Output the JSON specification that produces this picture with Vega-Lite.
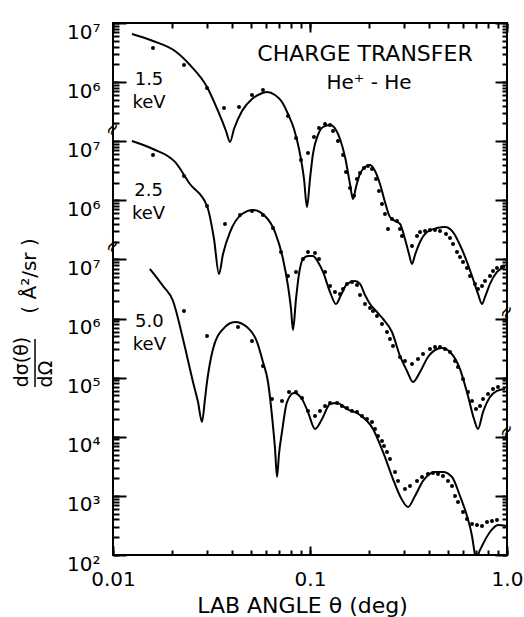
{
  "$schema": "https://vega.github.io/schema/vega-lite/v6.json",
  "width": 394,
  "height": 532,
  "autosize": {"type": "none"},
  "padding": {"left": 113, "top": 23, "right": 17, "bottom": 62},
  "background": "white",
  "config": {
    "view": {"stroke": "black", "strokeWidth": 2},
    "font": "DejaVu Sans",
    "axis": {
      "grid": false,
      "domain": false,
      "ticks": true,
      "tickColor": "#000000",
      "tickWidth": 2,
      "tickOpacity": 1,
      "tickRound": true,
      "zindex": 2,
      "labelColor": "black",
      "labelFont": "DejaVu Sans",
      "labelFontSize": 20,
      "titleColor": "black",
      "titleFont": "DejaVu Sans",
      "titleFontWeight": "normal",
      "labelOverlap": false,
      "labelFlush": false,
      "labelBound": false
    }
  },
  "datasets": {
    "theory": [
      {"energy": "1.5 keV", "theta": 0.01248, "sigma": 6.52e10},
      {"energy": "1.5 keV", "theta": 0.01596, "sigma": 4.97e10},
      {"energy": "1.5 keV", "theta": 0.02064, "sigma": 3.36e10},
      {"energy": "1.5 keV", "theta": 0.02459, "sigma": 1.95e10},
      {"energy": "1.5 keV", "theta": 0.03001, "sigma": 8.28e9},
      {"energy": "1.5 keV", "theta": 0.03412, "sigma": 3.25e9},
      {"energy": "1.5 keV", "theta": 0.03747, "sigma": 1.49e9},
      {"energy": "1.5 keV", "theta": 0.03926, "sigma": 9.71e8},
      {"energy": "1.5 keV", "theta": 0.04113, "sigma": 1.61e9},
      {"energy": "1.5 keV", "theta": 0.04518, "sigma": 3.25e9},
      {"energy": "1.5 keV", "theta": 0.05077, "sigma": 5.19e9},
      {"energy": "1.5 keV", "theta": 0.05575, "sigma": 6.30e9},
      {"energy": "1.5 keV", "theta": 0.06050, "sigma": 6.81e9},
      {"energy": "1.5 keV", "theta": 0.06645, "sigma": 6.05e9},
      {"energy": "1.5 keV", "theta": 0.07209, "sigma": 4.61e9},
      {"energy": "1.5 keV", "theta": 0.07733, "sigma": 2.89e9},
      {"energy": "1.5 keV", "theta": 0.08295, "sigma": 1.61e9},
      {"energy": "1.5 keV", "theta": 0.08796, "sigma": 7.39e8},
      {"energy": "1.5 keV", "theta": 0.09322, "sigma": 2.30e8},
      {"energy": "1.5 keV", "theta": 0.09656, "sigma": 7.71e7},
      {"energy": "1.5 keV", "theta": 0.1, "sigma": 2.30e8},
      {"energy": "1.5 keV", "theta": 0.1035, "sigma": 6.08e8},
      {"energy": "1.5 keV", "theta": 0.1098, "sigma": 1.28e9},
      {"energy": "1.5 keV", "theta": 0.1164, "sigma": 1.74e9},
      {"energy": "1.5 keV", "theta": 0.1264, "sigma": 1.88e9},
      {"energy": "1.5 keV", "theta": 0.1355, "sigma": 1.55e9},
      {"energy": "1.5 keV", "theta": 0.1420, "sigma": 1.09e9},
      {"energy": "1.5 keV", "theta": 0.1506, "sigma": 5.41e8},
      {"energy": "1.5 keV", "theta": 0.1596, "sigma": 1.89e8},
      {"energy": "1.5 keV", "theta": 0.1653, "sigma": 1.05e8},
      {"energy": "1.5 keV", "theta": 0.1712, "sigma": 1.68e8},
      {"energy": "1.5 keV", "theta": 0.1794, "sigma": 2.79e8},
      {"energy": "1.5 keV", "theta": 0.1902, "sigma": 3.66e8},
      {"energy": "1.5 keV", "theta": 0.2017, "sigma": 3.96e8},
      {"energy": "1.5 keV", "theta": 0.2138, "sigma": 3.14e8},
      {"energy": "1.5 keV", "theta": 0.2266, "sigma": 1.89e8},
      {"energy": "1.5 keV", "theta": 0.2402, "sigma": 9.38e7},
      {"energy": "1.5 keV", "theta": 0.2547, "sigma": 5.22e7},
      {"energy": "1.5 keV", "theta": 0.2701, "sigma": 4.48e7},
      {"energy": "1.5 keV", "theta": 0.2863, "sigma": 3.98e7},
      {"energy": "1.5 keV", "theta": 0.3035, "sigma": 2.22e7},
      {"energy": "1.5 keV", "theta": 0.3181, "sigma": 1.24e7},
      {"energy": "1.5 keV", "theta": 0.3294, "sigma": 8.38e6},
      {"energy": "1.5 keV", "theta": 0.3412, "sigma": 1.19e7},
      {"energy": "1.5 keV", "theta": 0.3618, "sigma": 1.97e7},
      {"energy": "1.5 keV", "theta": 0.3926, "sigma": 2.91e7},
      {"energy": "1.5 keV", "theta": 0.4413, "sigma": 3.40e7},
      {"energy": "1.5 keV", "theta": 0.4845, "sigma": 3.54e7},
      {"energy": "1.5 keV", "theta": 0.5320, "sigma": 2.91e7},
      {"energy": "1.5 keV", "theta": 0.5980, "sigma": 1.34e7},
      {"energy": "1.5 keV", "theta": 0.6643, "sigma": 5.25e6},
      {"energy": "1.5 keV", "theta": 0.7126, "sigma": 2.61e6},
      {"energy": "1.5 keV", "theta": 0.7467, "sigma": 1.76e6},
      {"energy": "1.5 keV", "theta": 0.7733, "sigma": 2.32e6},
      {"energy": "1.5 keV", "theta": 0.8198, "sigma": 3.85e6},
      {"energy": "1.5 keV", "theta": 0.8897, "sigma": 6.14e6},
      {"energy": "1.5 keV", "theta": 0.9768, "sigma": 7.45e6},
      {"energy": "2.5 keV", "theta": 0.01248, "sigma": 1.01e9},
      {"energy": "2.5 keV", "theta": 0.01596, "sigma": 7.39e8},
      {"energy": "2.5 keV", "theta": 0.02064, "sigma": 4.46e8},
      {"energy": "2.5 keV", "theta": 0.02459, "sigma": 1.89e8},
      {"energy": "2.5 keV", "theta": 0.03001, "sigma": 8.02e7},
      {"energy": "2.5 keV", "theta": 0.03256, "sigma": 2.22e7},
      {"energy": "2.5 keV", "theta": 0.03452, "sigma": 5.68e6},
      {"energy": "2.5 keV", "theta": 0.03618, "sigma": 1.24e7},
      {"energy": "2.5 keV", "theta": 0.03926, "sigma": 2.91e7},
      {"energy": "2.5 keV", "theta": 0.04518, "sigma": 5.87e7},
      {"energy": "2.5 keV", "theta": 0.05137, "sigma": 6.87e7},
      {"energy": "2.5 keV", "theta": 0.05908, "sigma": 5.43e7},
      {"energy": "2.5 keV", "theta": 0.06645, "sigma": 2.91e7},
      {"energy": "2.5 keV", "theta": 0.07293, "sigma": 1.02e7},
      {"energy": "2.5 keV", "theta": 0.07733, "sigma": 3.56e6},
      {"energy": "2.5 keV", "theta": 0.08010, "sigma": 1.45e6},
      {"energy": "2.5 keV", "theta": 0.08198, "sigma": 6.41e5},
      {"energy": "2.5 keV", "theta": 0.08490, "sigma": 2.14e6},
      {"energy": "2.5 keV", "theta": 0.08796, "sigma": 5.68e6},
      {"energy": "2.5 keV", "theta": 0.09215, "sigma": 1.02e7},
      {"energy": "2.5 keV", "theta": 0.09768, "sigma": 1.14e7},
      {"energy": "2.5 keV", "theta": 0.1035, "sigma": 1.14e7},
      {"energy": "2.5 keV", "theta": 0.1098, "sigma": 9.06e6},
      {"energy": "2.5 keV", "theta": 0.1164, "sigma": 6.14e6},
      {"energy": "2.5 keV", "theta": 0.1264, "sigma": 2.81e6},
      {"energy": "2.5 keV", "theta": 0.1355, "sigma": 1.76e6},
      {"energy": "2.5 keV", "theta": 0.1437, "sigma": 2.50e6},
      {"energy": "2.5 keV", "theta": 0.1541, "sigma": 3.85e6},
      {"energy": "2.5 keV", "theta": 0.1692, "sigma": 4.32e6},
      {"energy": "2.5 keV", "theta": 0.1794, "sigma": 3.85e6},
      {"energy": "2.5 keV", "theta": 0.1902, "sigma": 2.50e6},
      {"energy": "2.5 keV", "theta": 0.2017, "sigma": 1.76e6},
      {"energy": "2.5 keV", "theta": 0.2188, "sigma": 1.29e6},
      {"energy": "2.5 keV", "theta": 0.2347, "sigma": 9.84e5},
      {"energy": "2.5 keV", "theta": 0.2607, "sigma": 5.93e5},
      {"energy": "2.5 keV", "theta": 0.2863, "sigma": 2.33e5},
      {"energy": "2.5 keV", "theta": 0.3107, "sigma": 1.30e5},
      {"energy": "2.5 keV", "theta": 0.3333, "sigma": 8.45e4},
      {"energy": "2.5 keV", "theta": 0.3618, "sigma": 1.25e5},
      {"energy": "2.5 keV", "theta": 0.3972, "sigma": 2.24e5},
      {"energy": "2.5 keV", "theta": 0.4413, "sigma": 3.05e5},
      {"energy": "2.5 keV", "theta": 0.4679, "sigma": 3.18e5},
      {"energy": "2.5 keV", "theta": 0.5137, "sigma": 2.72e5},
      {"energy": "2.5 keV", "theta": 0.5773, "sigma": 1.40e5},
      {"energy": "2.5 keV", "theta": 0.6339, "sigma": 4.90e4},
      {"energy": "2.5 keV", "theta": 0.6800, "sigma": 2.00e4},
      {"energy": "2.5 keV", "theta": 0.7126, "sigma": 1.36e4},
      {"energy": "2.5 keV", "theta": 0.7555, "sigma": 2.62e4},
      {"energy": "2.5 keV", "theta": 0.8198, "sigma": 4.71e4},
      {"energy": "2.5 keV", "theta": 0.8897, "sigma": 5.96e4},
      {"energy": "2.5 keV", "theta": 0.9768, "sigma": 6.43e4},
      {"energy": "5.0 keV", "theta": 0.01541, "sigma": 6.90e6},
      {"energy": "5.0 keV", "theta": 0.01794, "sigma": 3.56e6},
      {"energy": "5.0 keV", "theta": 0.02017, "sigma": 1.98e6},
      {"energy": "5.0 keV", "theta": 0.02266, "sigma": 4.51e5},
      {"energy": "5.0 keV", "theta": 0.02547, "sigma": 8.45e4},
      {"energy": "5.0 keV", "theta": 0.02701, "sigma": 3.87e4},
      {"energy": "5.0 keV", "theta": 0.02829, "sigma": 1.78e4},
      {"energy": "5.0 keV", "theta": 0.02931, "sigma": 4.36e4},
      {"energy": "5.0 keV", "theta": 0.03001, "sigma": 8.45e4},
      {"energy": "5.0 keV", "theta": 0.03218, "sigma": 3.05e5},
      {"energy": "5.0 keV", "theta": 0.03618, "sigma": 6.65e5},
      {"energy": "5.0 keV", "theta": 0.04162, "sigma": 8.75e5},
      {"energy": "5.0 keV", "theta": 0.04788, "sigma": 7.19e5},
      {"energy": "5.0 keV", "theta": 0.05383, "sigma": 4.02e5},
      {"energy": "5.0 keV", "theta": 0.05771, "sigma": 1.84e5},
      {"energy": "5.0 keV", "theta": 0.06121, "sigma": 8.45e4},
      {"energy": "5.0 keV", "theta": 0.06413, "sigma": 2.25e4},
      {"energy": "5.0 keV", "theta": 0.06645, "sigma": 6.21e3},
      {"energy": "5.0 keV", "theta": 0.06803, "sigma": 2.09e3},
      {"energy": "5.0 keV", "theta": 0.06960, "sigma": 5.11e3},
      {"energy": "5.0 keV", "theta": 0.07209, "sigma": 1.21e4},
      {"energy": "5.0 keV", "theta": 0.07642, "sigma": 3.87e4},
      {"energy": "5.0 keV", "theta": 0.08295, "sigma": 5.51e4},
      {"energy": "5.0 keV", "theta": 0.09107, "sigma": 4.36e4},
      {"energy": "5.0 keV", "theta": 0.09768, "sigma": 2.62e4},
      {"energy": "5.0 keV", "theta": 0.1060, "sigma": 1.36e4},
      {"energy": "5.0 keV", "theta": 0.1151, "sigma": 2.00e4},
      {"energy": "5.0 keV", "theta": 0.1264, "sigma": 3.59e4},
      {"energy": "5.0 keV", "theta": 0.1371, "sigma": 3.73e4},
      {"energy": "5.0 keV", "theta": 0.1541, "sigma": 2.95e4},
      {"energy": "5.0 keV", "theta": 0.1794, "sigma": 2.34e4},
      {"energy": "5.0 keV", "theta": 0.2088, "sigma": 1.36e4},
      {"energy": "5.0 keV", "theta": 0.2347, "sigma": 5.53e3},
      {"energy": "5.0 keV", "theta": 0.2638, "sigma": 1.93e3},
      {"energy": "5.0 keV", "theta": 0.2863, "sigma": 996},
      {"energy": "5.0 keV", "theta": 0.3144, "sigma": 649},
      {"energy": "5.0 keV", "theta": 0.3412, "sigma": 996},
      {"energy": "5.0 keV", "theta": 0.3747, "sigma": 1.79e3},
      {"energy": "5.0 keV", "theta": 0.4311, "sigma": 2.54e3},
      {"energy": "5.0 keV", "theta": 0.4733, "sigma": 2.54e3},
      {"energy": "5.0 keV", "theta": 0.5258, "sigma": 2.09e3},
      {"energy": "5.0 keV", "theta": 0.5773, "sigma": 996},
      {"energy": "5.0 keV", "theta": 0.6266, "sigma": 457},
      {"energy": "5.0 keV", "theta": 0.6643, "sigma": 210},
      {"energy": "5.0 keV", "theta": 0.6880, "sigma": 100},
      {"energy": "5.0 keV", "theta": 0.7000, "sigma": 80},
      {"energy": "5.0 keV", "theta": 0.7126, "sigma": 100},
      {"energy": "5.0 keV", "theta": 0.7467, "sigma": 142},
      {"energy": "5.0 keV", "theta": 0.8198, "sigma": 245},
      {"energy": "5.0 keV", "theta": 0.9001, "sigma": 322},
      {"energy": "5.0 keV", "theta": 1.0, "sigma": 310}
    ],
    "experiment": [
      {"energy": "1.5 keV", "theta": 0.01596, "sigma": 3.78e10},
      {"energy": "1.5 keV", "theta": 0.02293, "sigma": 1.95e10},
      {"energy": "1.5 keV", "theta": 0.03001, "sigma": 7.96e9},
      {"energy": "1.5 keV", "theta": 0.03661, "sigma": 3.65e9},
      {"energy": "1.5 keV", "theta": 0.04362, "sigma": 3.79e9},
      {"energy": "1.5 keV", "theta": 0.05077, "sigma": 6.05e9},
      {"energy": "1.5 keV", "theta": 0.05771, "sigma": 7.36e9},
      {"energy": "1.5 keV", "theta": 0.07733, "sigma": 2.67e9},
      {"energy": "1.5 keV", "theta": 0.08490, "sigma": 1.135e9},
      {"energy": "1.5 keV", "theta": 0.09001, "sigma": 4.82e8},
      {"energy": "1.5 keV", "theta": 0.09768, "sigma": 6.32e8},
      {"energy": "1.5 keV", "theta": 0.1048, "sigma": 1.18e9},
      {"energy": "1.5 keV", "theta": 0.1111, "sigma": 1.67e9},
      {"energy": "1.5 keV", "theta": 0.1192, "sigma": 1.96e9},
      {"energy": "1.5 keV", "theta": 0.1264, "sigma": 1.88e9},
      {"energy": "1.5 keV", "theta": 0.1309, "sigma": 1.49e9},
      {"energy": "1.5 keV", "theta": 0.1387, "sigma": 1.01e9},
      {"energy": "1.5 keV", "theta": 0.1471, "sigma": 5.85e8},
      {"energy": "1.5 keV", "theta": 0.1523, "sigma": 3.02e8},
      {"energy": "1.5 keV", "theta": 0.1596, "sigma": 1.62e8},
      {"energy": "1.5 keV", "theta": 0.1673, "sigma": 1.19e8},
      {"energy": "1.5 keV", "theta": 0.1732, "sigma": 2.30e8},
      {"energy": "1.5 keV", "theta": 0.1794, "sigma": 2.90e8},
      {"energy": "1.5 keV", "theta": 0.1880, "sigma": 3.52e8},
      {"energy": "1.5 keV", "theta": 0.1970, "sigma": 3.81e8},
      {"energy": "1.5 keV", "theta": 0.2064, "sigma": 3.39e8},
      {"energy": "1.5 keV", "theta": 0.2163, "sigma": 2.30e8},
      {"energy": "1.5 keV", "theta": 0.2239, "sigma": 1.44e8},
      {"energy": "1.5 keV", "theta": 0.2320, "sigma": 8.67e7},
      {"energy": "1.5 keV", "theta": 0.2402, "sigma": 5.87e7},
      {"energy": "1.5 keV", "theta": 0.2488, "sigma": 3.27e7},
      {"energy": "1.5 keV", "theta": 0.2607, "sigma": 4.83e7},
      {"energy": "1.5 keV", "theta": 0.2764, "sigma": 4.48e7},
      {"energy": "1.5 keV", "theta": 0.2863, "sigma": 3.27e7},
      {"energy": "1.5 keV", "theta": 0.2931, "sigma": 2.49e7},
      {"energy": "1.5 keV", "theta": 0.3294, "sigma": 1.69e7},
      {"energy": "1.5 keV", "theta": 0.3493, "sigma": 2.49e7},
      {"energy": "1.5 keV", "theta": 0.3618, "sigma": 2.91e7},
      {"energy": "1.5 keV", "theta": 0.3836, "sigma": 3.03e7},
      {"energy": "1.5 keV", "theta": 0.4066, "sigma": 3.15e7},
      {"energy": "1.5 keV", "theta": 0.4311, "sigma": 3.15e7},
      {"energy": "1.5 keV", "theta": 0.4571, "sigma": 3.03e7},
      {"energy": "1.5 keV", "theta": 0.4902, "sigma": 2.70e7},
      {"energy": "1.5 keV", "theta": 0.5137, "sigma": 2.31e7},
      {"energy": "1.5 keV", "theta": 0.5320, "sigma": 1.82e7},
      {"energy": "1.5 keV", "theta": 0.5575, "sigma": 1.34e7},
      {"energy": "1.5 keV", "theta": 0.5773, "sigma": 1.10e7},
      {"energy": "1.5 keV", "theta": 0.5980, "sigma": 9.06e6},
      {"energy": "1.5 keV", "theta": 0.6266, "sigma": 7.16e6},
      {"energy": "1.5 keV", "theta": 0.6490, "sigma": 5.25e6},
      {"energy": "1.5 keV", "theta": 0.6880, "sigma": 3.85e6},
      {"energy": "1.5 keV", "theta": 0.7126, "sigma": 3.16e6},
      {"energy": "1.5 keV", "theta": 0.7467, "sigma": 3.56e6},
      {"energy": "1.5 keV", "theta": 0.7733, "sigma": 4.32e6},
      {"energy": "1.5 keV", "theta": 0.8198, "sigma": 5.25e6},
      {"energy": "1.5 keV", "theta": 0.8490, "sigma": 6.38e6},
      {"energy": "1.5 keV", "theta": 0.8897, "sigma": 7.16e6},
      {"energy": "1.5 keV", "theta": 0.9433, "sigma": 7.45e6},
      {"energy": "2.5 keV", "theta": 0.01596, "sigma": 5.85e8},
      {"energy": "2.5 keV", "theta": 0.02293, "sigma": 2.58e8},
      {"energy": "2.5 keV", "theta": 0.03001, "sigma": 8.02e7},
      {"energy": "2.5 keV", "theta": 0.03704, "sigma": 3.98e7},
      {"energy": "2.5 keV", "theta": 0.04413, "sigma": 5.65e7},
      {"energy": "2.5 keV", "theta": 0.05077, "sigma": 6.61e7},
      {"energy": "2.5 keV", "theta": 0.05771, "sigma": 5.65e7},
      {"energy": "2.5 keV", "theta": 0.06488, "sigma": 3.40e7},
      {"energy": "2.5 keV", "theta": 0.07124, "sigma": 1.34e7},
      {"energy": "2.5 keV", "theta": 0.07733, "sigma": 5.25e6},
      {"energy": "2.5 keV", "theta": 0.08490, "sigma": 6.14e6},
      {"energy": "2.5 keV", "theta": 0.09215, "sigma": 1.02e7},
      {"energy": "2.5 keV", "theta": 0.09768, "sigma": 1.34e7},
      {"energy": "2.5 keV", "theta": 0.1060, "sigma": 1.29e7},
      {"energy": "2.5 keV", "theta": 0.1111, "sigma": 1.02e7},
      {"energy": "2.5 keV", "theta": 0.1192, "sigma": 6.14e6},
      {"energy": "2.5 keV", "theta": 0.1264, "sigma": 3.56e6},
      {"energy": "2.5 keV", "theta": 0.1339, "sigma": 2.81e6},
      {"energy": "2.5 keV", "theta": 0.1420, "sigma": 2.61e6},
      {"energy": "2.5 keV", "theta": 0.1471, "sigma": 3.16e6},
      {"energy": "2.5 keV", "theta": 0.1541, "sigma": 3.85e6},
      {"energy": "2.5 keV", "theta": 0.1634, "sigma": 4.16e6},
      {"energy": "2.5 keV", "theta": 0.1732, "sigma": 3.70e6},
      {"energy": "2.5 keV", "theta": 0.1794, "sigma": 2.50e6},
      {"energy": "2.5 keV", "theta": 0.1902, "sigma": 1.76e6},
      {"energy": "2.5 keV", "theta": 0.2017, "sigma": 1.51e6},
      {"energy": "2.5 keV", "theta": 0.2088, "sigma": 1.34e6},
      {"energy": "2.5 keV", "theta": 0.2188, "sigma": 1.10e6},
      {"energy": "2.5 keV", "theta": 0.2320, "sigma": 8.09e5},
      {"energy": "2.5 keV", "theta": 0.2459, "sigma": 5.93e5},
      {"energy": "2.5 keV", "theta": 0.2547, "sigma": 4.51e5},
      {"energy": "2.5 keV", "theta": 0.2638, "sigma": 3.44e5},
      {"energy": "2.5 keV", "theta": 0.2863, "sigma": 2.24e5},
      {"energy": "2.5 keV", "theta": 0.3035, "sigma": 1.91e5},
      {"energy": "2.5 keV", "theta": 0.3294, "sigma": 1.70e5},
      {"energy": "2.5 keV", "theta": 0.3534, "sigma": 2.07e5},
      {"energy": "2.5 keV", "theta": 0.3747, "sigma": 2.51e5},
      {"energy": "2.5 keV", "theta": 0.4066, "sigma": 3.05e5},
      {"energy": "2.5 keV", "theta": 0.4311, "sigma": 3.30e5},
      {"energy": "2.5 keV", "theta": 0.4571, "sigma": 3.30e5},
      {"energy": "2.5 keV", "theta": 0.4845, "sigma": 3.05e5},
      {"energy": "2.5 keV", "theta": 0.5137, "sigma": 2.72e5},
      {"energy": "2.5 keV", "theta": 0.5445, "sigma": 1.91e5},
      {"energy": "2.5 keV", "theta": 0.5640, "sigma": 1.52e5},
      {"energy": "2.5 keV", "theta": 0.5980, "sigma": 9.51e4},
      {"energy": "2.5 keV", "theta": 0.6339, "sigma": 5.73e4},
      {"energy": "2.5 keV", "theta": 0.6643, "sigma": 4.03e4},
      {"energy": "2.5 keV", "theta": 0.6961, "sigma": 2.95e4},
      {"energy": "2.5 keV", "theta": 0.7294, "sigma": 3.32e4},
      {"energy": "2.5 keV", "theta": 0.7555, "sigma": 4.36e4},
      {"energy": "2.5 keV", "theta": 0.8009, "sigma": 5.30e4},
      {"energy": "2.5 keV", "theta": 0.8490, "sigma": 6.43e4},
      {"energy": "2.5 keV", "theta": 0.9001, "sigma": 6.95e4},
      {"energy": "5.0 keV", "theta": 0.02293, "sigma": 1.34e6},
      {"energy": "5.0 keV", "theta": 0.03001, "sigma": 5.07e5},
      {"energy": "5.0 keV", "theta": 0.04311, "sigma": 7.19e5},
      {"energy": "5.0 keV", "theta": 0.05077, "sigma": 4.17e5},
      {"energy": "5.0 keV", "theta": 0.05771, "sigma": 1.58e5},
      {"energy": "5.0 keV", "theta": 0.06413, "sigma": 4.36e4},
      {"energy": "5.0 keV", "theta": 0.07209, "sigma": 4.03e4},
      {"energy": "5.0 keV", "theta": 0.07824, "sigma": 5.73e4},
      {"energy": "5.0 keV", "theta": 0.08490, "sigma": 5.73e4},
      {"energy": "5.0 keV", "theta": 0.09107, "sigma": 4.53e4},
      {"energy": "5.0 keV", "theta": 0.09768, "sigma": 2.73e4},
      {"energy": "5.0 keV", "theta": 0.1060, "sigma": 2.25e4},
      {"energy": "5.0 keV", "theta": 0.1124, "sigma": 2.73e4},
      {"energy": "5.0 keV", "theta": 0.1192, "sigma": 3.32e4},
      {"energy": "5.0 keV", "theta": 0.1264, "sigma": 3.73e4},
      {"energy": "5.0 keV", "theta": 0.1371, "sigma": 3.73e4},
      {"energy": "5.0 keV", "theta": 0.1453, "sigma": 3.32e4},
      {"energy": "5.0 keV", "theta": 0.1541, "sigma": 3.07e4},
      {"energy": "5.0 keV", "theta": 0.1634, "sigma": 2.73e4},
      {"energy": "5.0 keV", "theta": 0.1732, "sigma": 2.62e4},
      {"energy": "5.0 keV", "theta": 0.1837, "sigma": 2.25e4},
      {"energy": "5.0 keV", "theta": 0.1947, "sigma": 2.00e4},
      {"energy": "5.0 keV", "theta": 0.2064, "sigma": 1.78e4},
      {"energy": "5.0 keV", "theta": 0.2138, "sigma": 1.36e4},
      {"energy": "5.0 keV", "theta": 0.2214, "sigma": 1.03e4},
      {"energy": "5.0 keV", "theta": 0.2320, "sigma": 8.49e3},
      {"energy": "5.0 keV", "theta": 0.2375, "sigma": 6.98e3},
      {"energy": "5.0 keV", "theta": 0.2459, "sigma": 5.53e3},
      {"energy": "5.0 keV", "theta": 0.2547, "sigma": 4.21e3},
      {"energy": "5.0 keV", "theta": 0.2701, "sigma": 2.54e3},
      {"energy": "5.0 keV", "theta": 0.2797, "sigma": 1.79e3},
      {"energy": "5.0 keV", "theta": 0.3035, "sigma": 1.31e3},
      {"energy": "5.0 keV", "theta": 0.3218, "sigma": 1.47e3},
      {"energy": "5.0 keV", "theta": 0.3493, "sigma": 1.79e3},
      {"energy": "5.0 keV", "theta": 0.3704, "sigma": 2.09e3},
      {"energy": "5.0 keV", "theta": 0.3972, "sigma": 2.34e3},
      {"energy": "5.0 keV", "theta": 0.4211, "sigma": 2.44e3},
      {"energy": "5.0 keV", "theta": 0.4465, "sigma": 2.34e3},
      {"energy": "5.0 keV", "theta": 0.4733, "sigma": 2.17e3},
      {"energy": "5.0 keV", "theta": 0.5017, "sigma": 1.79e3},
      {"energy": "5.0 keV", "theta": 0.5258, "sigma": 1.47e3},
      {"energy": "5.0 keV", "theta": 0.5445, "sigma": 996},
      {"energy": "5.0 keV", "theta": 0.5640, "sigma": 788},
      {"energy": "5.0 keV", "theta": 0.5980, "sigma": 534},
      {"energy": "5.0 keV", "theta": 0.6266, "sigma": 406},
      {"energy": "5.0 keV", "theta": 0.6643, "sigma": 334},
      {"energy": "5.0 keV", "theta": 0.7043, "sigma": 322},
      {"energy": "5.0 keV", "theta": 0.7467, "sigma": 310},
      {"energy": "5.0 keV", "theta": 0.7916, "sigma": 361},
      {"energy": "5.0 keV", "theta": 0.8391, "sigma": 376},
      {"energy": "5.0 keV", "theta": 0.8897, "sigma": 391}
    ],
    "breaksLeft": [
      {"theta": 0.01, "sigma": 1.61e9},
      {"theta": 0.01, "sigma": 1.69e7}
    ],
    "breaksRight": [
      {"theta": 1.0, "sigma": 1.29e6},
      {"theta": 1.0, "sigma": 1.25e4}
    ]
  },
  "layer": [
    {
      "data": {"name": "theory"},
      "mark": {"type": "line", "color": "black", "strokeWidth": 2, "interpolate": "monotone", "clip": true},
      "encoding": {
        "x": {
          "field": "theta", "type": "quantitative",
          "scale": {"type": "log", "domain": [0.01, 1], "nice": false},
          "axis": {
            "orient": "bottom",
            "offset": -5,
            "tickSize": 5,
            "values": [0.01, 0.02, 0.03, 0.04, 0.05, 0.06, 0.07, 0.08, 0.09, 0.1, 0.2, 0.3, 0.4, 0.5, 0.6, 0.7, 0.8, 0.9, 1],
            "labelExpr": "abs(log(datum.value)/LN10 - round(log(datum.value)/LN10)) < 0.001 ? (datum.value < 0.05 ? '0.01' : (datum.value < 0.5 ? '0.1' : '1.0')) : ''",
            "labelPadding": 14,
            "labelAlign": "center",
            "title": "LAB  ANGLE  θ  (deg)",
            "titleFontSize": 22,
            "titleY": 55,
            "titleX": 189,
            "titleBaseline": "middle"
          }
        },
        "y": {
          "field": "sigma", "type": "quantitative",
          "scale": {"type": "log", "domain": [100, 1e11], "nice": false},
          "axis": {
            "orient": "left",
            "offset": -6,
            "tickSize": 6,
            "values": [1e2,2e2,3e2,4e2,5e2,6e2,7e2,8e2,9e2,1e3,2e3,3e3,4e3,5e3,6e3,7e3,8e3,9e3,1e4,2e4,3e4,4e4,5e4,6e4,7e4,8e4,9e4,1e5,2e5,3e5,4e5,5e5,6e5,7e5,8e5,9e5,1e6,2e6,3e6,4e6,5e6,6e6,7e6,8e6,9e6,1e7,2e7,3e7,4e7,5e7,6e7,7e7,8e7,9e7,1e8,2e8,3e8,4e8,5e8,6e8,7e8,8e8,9e8,1e9,2e9,3e9,4e9,5e9,6e9,7e9,8e9,9e9,1e10,2e10,3e10,4e10,5e10,6e10,7e10,8e10,9e10,1e11],
            "labelExpr": "abs(log(datum.value)/LN10 - round(log(datum.value)/LN10)) < 0.001 ? '10' + ['⁰','¹','²','³','⁴','⁵','⁶','⁷','⁸','⁹'][round(log(datum.value)/LN10) >= 10 ? round(log(datum.value)/LN10) - 4 : (round(log(datum.value)/LN10) >= 8 ? round(log(datum.value)/LN10) - 2 : round(log(datum.value)/LN10))] : ''",
            "labelPadding": 13,
            "labelAlign": "right",
            "labelBaseline": "alphabetic",
            "labelOffset": 15,
            "title": null
          }
        },
        "detail": {"field": "energy"}
      }
    },
    {
      "data": {"name": "experiment"},
      "mark": {"type": "circle", "color": "black", "size": 16, "opacity": 1},
      "encoding": {
        "x": {
          "field": "theta", "type": "quantitative",
          "scale": {"type": "log", "domain": [0.01, 1], "nice": false},
          "axis": {
            "orient": "top",
            "offset": -5,
            "tickSize": 5,
            "values": [0.01, 0.02, 0.03, 0.04, 0.05, 0.06, 0.07, 0.08, 0.09, 0.1, 0.2, 0.3, 0.4, 0.5, 0.6, 0.7, 0.8, 0.9, 1],
            "labels": false,
            "title": null
          }
        },
        "y": {
          "field": "sigma", "type": "quantitative",
          "scale": {"type": "log", "domain": [100, 1e11], "nice": false},
          "axis": {
            "orient": "right",
            "offset": -5,
            "tickSize": 5,
            "values": [1e2,2e2,3e2,4e2,5e2,6e2,7e2,8e2,9e2,1e3,2e3,3e3,4e3,5e3,6e3,7e3,8e3,9e3,1e4,2e4,3e4,4e4,5e4,6e4,7e4,8e4,9e4,1e5,2e5,3e5,4e5,5e5,6e5,7e5,8e5,9e5,1e6,2e6,3e6,4e6,5e6,6e6,7e6,8e6,9e6,1e7,2e7,3e7,4e7,5e7,6e7,7e7,8e7,9e7,1e8,2e8,3e8,4e8,5e8,6e8,7e8,8e8,9e8,1e9,2e9,3e9,4e9,5e9,6e9,7e9,8e9,9e9,1e10,2e10,3e10,4e10,5e10,6e10,7e10,8e10,9e10,1e11],
            "labels": false,
            "title": null
          }
        },
        "detail": {"field": "energy"}
      }
    },
    {
      "data": {"name": "breaksLeft"},
      "mark": {"type": "text", "text": "≈", "fontSize": 18, "angle": 300, "color": "black", "align": "center", "baseline": "middle", "font": "DejaVu Sans"},
      "encoding": {
        "x": {
          "field": "theta", "type": "quantitative",
          "axis": {"orient": "bottom", "offset": -9, "tickSize": 9, "values": [0.01, 0.1, 1], "labels": false, "title": null}
        },
        "y": {
          "field": "sigma", "type": "quantitative",
          "axis": {"orient": "left", "offset": -13, "tickSize": 13, "values": [1e2, 1e3, 1e4, 1e5, 1e6, 1e7, 1e8, 1e9, 1e10, 1e11], "labels": false, "title": null}
        }
      }
    },
    {
      "data": {"name": "breaksRight"},
      "mark": {"type": "text", "text": "≈", "fontSize": 18, "angle": 300, "color": "black", "align": "center", "baseline": "middle", "font": "DejaVu Sans"},
      "encoding": {
        "x": {
          "field": "theta", "type": "quantitative",
          "axis": {"orient": "top", "offset": -9, "tickSize": 9, "values": [0.01, 0.1, 1], "labels": false, "title": null}
        },
        "y": {
          "field": "sigma", "type": "quantitative",
          "axis": {"orient": "right", "offset": -12, "tickSize": 12, "values": [1e2, 1e3, 1e4, 1e5, 1e6, 1e7, 1e8, 1e9, 1e10, 1e11], "labels": false, "title": null}
        }
      }
    },
    {
      "data": {"values": [{}]},
      "mark": {"type": "text", "text": "CHARGE TRANSFER", "fontSize": 22, "align": "center", "baseline": "middle", "color": "black", "font": "DejaVu Sans"},
      "encoding": {
        "x": {"datum": 0.1902, "type": "quantitative", "axis": null},
        "y": {"datum": 2.99e10, "type": "quantitative", "axis": null}
      }
    },
    {
      "data": {"values": [{}]},
      "mark": {"type": "text", "text": "He⁺ - He", "fontSize": 20, "align": "center", "baseline": "middle", "color": "black", "font": "DejaVu Sans"},
      "encoding": {
        "x": {"datum": 0.1995, "type": "quantitative", "axis": null},
        "y": {"datum": 9.66e9, "type": "quantitative", "axis": null}
      }
    },
    {
      "data": {"values": [{}]},
      "mark": {"type": "text", "text": ["1.5", "keV"], "fontSize": 18, "lineHeight": 23, "align": "center", "baseline": "middle", "color": "black", "font": "DejaVu Sans"},
      "encoding": {
        "x": {"datum": 0.01523, "type": "quantitative", "axis": null},
        "y": {"datum": 1.087e10, "type": "quantitative", "axis": null}
      }
    },
    {
      "data": {"values": [{}]},
      "mark": {"type": "text", "text": ["2.5", "keV"], "fontSize": 18, "lineHeight": 23, "align": "center", "baseline": "middle", "color": "black", "font": "DejaVu Sans"},
      "encoding": {
        "x": {"datum": 0.01515, "type": "quantitative", "axis": null},
        "y": {"datum": 1.44e8, "type": "quantitative", "axis": null}
      }
    },
    {
      "data": {"values": [{}]},
      "mark": {"type": "text", "text": ["5.0", "keV"], "fontSize": 18, "lineHeight": 23, "align": "center", "baseline": "middle", "color": "black", "font": "DejaVu Sans"},
      "encoding": {
        "x": {"datum": 0.0153, "type": "quantitative", "axis": null},
        "y": {"datum": 8.75e5, "type": "quantitative", "axis": null}
      }
    },
    {
      "data": {"values": [{}]},
      "mark": {"type": "text", "text": "dσ(θ)", "fontSize": 19, "angle": 270, "align": "center", "baseline": "middle", "color": "black", "font": "DejaVu Sans"},
      "encoding": {
        "x": {"datum": 0.00345, "type": "quantitative", "axis": null},
        "y": {"datum": 1.84e5, "type": "quantitative", "axis": null}
      }
    },
    {
      "data": {"values": [{}]},
      "mark": {"type": "rule", "color": "black", "strokeWidth": 1.5},
      "encoding": {
        "x": {"datum": 0.00402, "type": "quantitative", "axis": null},
        "y": {"datum": 4.51e5, "type": "quantitative", "axis": null},
        "y2": {"datum": 6.95e4}
      }
    },
    {
      "data": {"values": [{}]},
      "mark": {"type": "text", "text": "dΩ", "fontSize": 19, "angle": 270, "align": "center", "baseline": "middle", "color": "black", "font": "DejaVu Sans"},
      "encoding": {
        "x": {"datum": 0.00457, "type": "quantitative", "axis": null},
        "y": {"datum": 1.15e5, "type": "quantitative", "axis": null}
      }
    },
    {
      "data": {"values": [{}]},
      "mark": {"type": "text", "text": "( Å²/sr )", "fontSize": 20, "angle": 270, "align": "center", "baseline": "middle", "color": "black", "font": "DejaVu Sans"},
      "encoding": {
        "x": {"datum": 0.00379, "type": "quantitative", "axis": null},
        "y": {"datum": 5.25e6, "type": "quantitative", "axis": null}
      }
    }
  ],
  "resolve": {"axis": {"x": "independent", "y": "independent"}}
}
